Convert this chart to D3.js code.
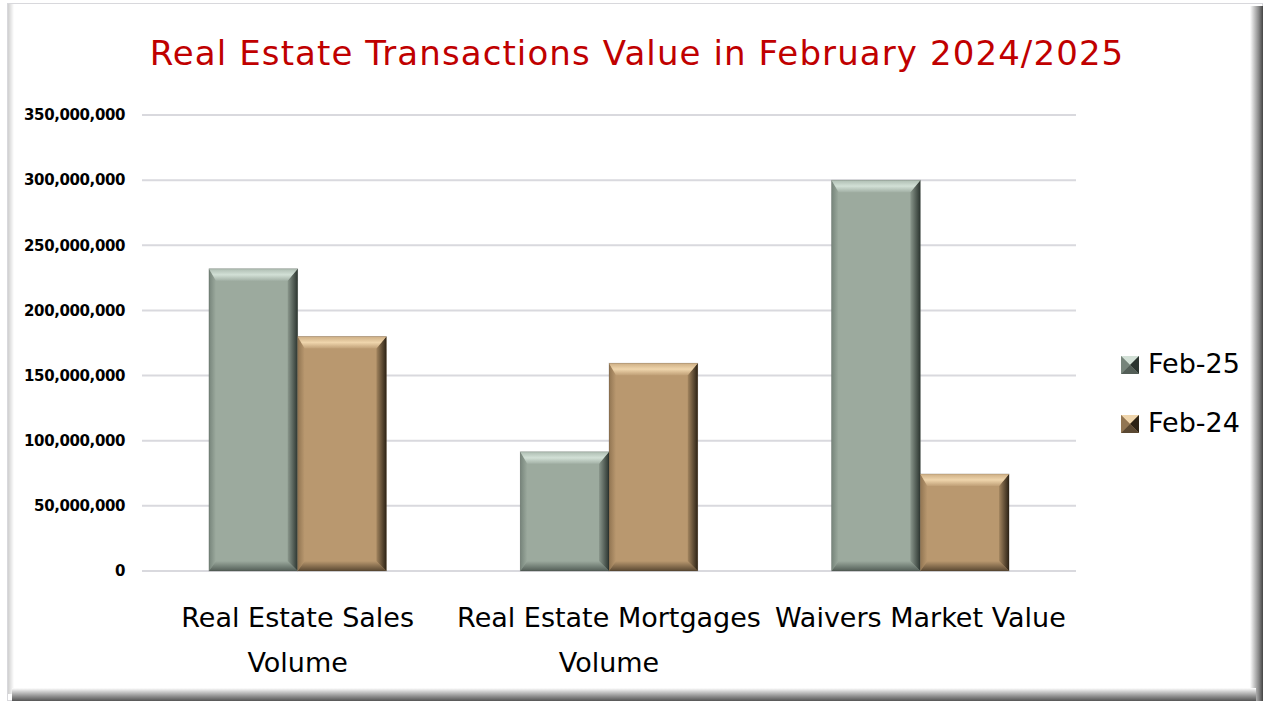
<!DOCTYPE html>
<html>
<head>
<meta charset="utf-8">
<script src="https://cdn.jsdelivr.net/npm/d3@7"></script>
<style>
  html, body { margin: 0; padding: 0; background: #fff; }
  svg { display: block; }
</style>
</head>
<body>
<svg id="chart"></svg>
<script>
const categories = [["Real Estate Sales", "Volume"], ["Real Estate Mortgages", "Volume"], ["Waivers Market Value"]];
const seriesNames = ["Feb-25", "Feb-24"];
const feb25 = [232000000, 91500000, 300000000];
const feb24 = [180000000, 159500000, 74500000];
const yTicks = [0, 50000000, 100000000, 150000000, 200000000, 250000000, 300000000, 350000000];

const WIDTH = 1267, HEIGHT = 708;
const margin = { left: 142, right: 191, top: 115, bottom: 137 };
const FONT = "DejaVu Sans, Verdana, sans-serif";

const palette = {
    "Feb-25": { key: "g", face: "#9caa9e",
        top: ["#aebdb2", "#d2e0d6", "#a3b1a6"], left: ["#76847a", "#9caa9e"],
        right: ["#8a978c", "#2c3530"], bottom: ["#9caa9e", "#535e57"] },
    "Feb-24": { key: "t", face: "#b9986f",
        top: ["#cdae84", "#efd5ac", "#c0a077"], left: ["#917552", "#b9986f"],
        right: ["#a3855f", "#2c2215"], bottom: ["#b9986f", "#5a4832"] }
};

const svg = d3.select("svg#chart")
    .attr("width", WIDTH)
    .attr("height", HEIGHT);

const defs = svg.append("defs");

function gradient(id, vertical, stops) {
    const g = defs.append("linearGradient").attr("id", id)
        .attr("x1", 0).attr("y1", 0)
        .attr("x2", vertical ? 0 : 1).attr("y2", vertical ? 1 : 0);
    stops.forEach((c, i) => g.append("stop")
        .attr("offset", stops.length === 1 ? 0 : i / (stops.length - 1))
        .attr("stop-color", c));
}

gradient("shR", false, ["#ffffff", "#c4c4c4", "#8a8a8a", "#444444"]);
gradient("shB", true, ["#ffffff", "#c4c4c4", "#8a8a8a", "#555555"]);
gradient("shL", false, ["#cfcfcf", "#ffffff"]);

Object.values(palette).forEach(p => {
    gradient(p.key + "Top", true, p.top);
    gradient(p.key + "Left", false, p.left);
    gradient(p.key + "Right", false, p.right);
    gradient(p.key + "Bottom", true, p.bottom);
});

// frame
svg.append("rect").attr("x", 7.5).attr("y", 3.5).attr("width", 1255).attr("height", 697).attr("fill", "#fff")
    .attr("stroke", "#d8d8dc").attr("stroke-width", 1);
svg.append("rect").attr("x", 8).attr("y", 4).attr("width", 6).attr("height", 690).attr("fill", "url(#shL)");
svg.append("rect").attr("x", 1250).attr("y", 6).attr("width", 13).attr("height", 695).attr("fill", "url(#shR)");
svg.append("rect").attr("x", 12).attr("y", 688).attr("width", 1244).attr("height", 13).attr("fill", "url(#shB)");

// title
svg.append("text")
    .attr("x", 637).attr("y", 65)
    .attr("text-anchor", "middle")
    .attr("font-family", FONT)
    .attr("font-size", 34)
    .attr("letter-spacing", 1.1)
    .attr("fill", "#c00000")
    .text("Real Estate Transactions Value in February 2024/2025");

const x0 = d3.scaleBand()
    .domain(d3.range(categories.length))
    .range([margin.left, WIDTH - margin.right])
    .paddingInner(0.43)
    .paddingOuter(0.215);

const x1 = d3.scaleBand()
    .domain(seriesNames)
    .range([0, x0.bandwidth()]);

const y = d3.scaleLinear()
    .domain([0, 350000000])
    .range([HEIGHT - margin.bottom, margin.top]);

// gridlines
svg.append("g").selectAll("line")
    .data(yTicks)
    .enter().append("line")
        .attr("x1", margin.left).attr("x2", WIDTH - margin.right)
        .attr("y1", d => y(d)).attr("y2", d => y(d))
        .attr("stroke", "#d9d9de").attr("stroke-width", 2);

// y axis labels
const yAxis = d3.axisLeft(y)
    .tickValues(yTicks)
    .tickSize(0)
    .tickPadding(17)
    .tickFormat(d3.format(","));

svg.append("g")
    .attr("transform", `translate(${margin.left},0)`)
    .call(yAxis)
    .call(g => g.select(".domain").remove())
    .call(g => g.selectAll("text")
        .attr("font-family", FONT)
        .attr("font-size", 15)
        .attr("letter-spacing", -0.4)
        .attr("font-weight", "bold")
        .attr("fill", "#000"));

const bars = [];
categories.forEach((c, i) => {
    bars.push({ cat: i, name: "Feb-25", value: feb25[i] });
    bars.push({ cat: i, name: "Feb-24", value: feb24[i] });
});

// bevelled bar: face plus four trapezoid edges
function bevel(g, x, yTop, w, h, col) {
    const xr = x + w, yb = yTop + h;
    const bt = Math.min(12, h / 2), bl = Math.min(7, w / 2), br = Math.min(10, w / 2), bb = Math.min(10, h / 2);
    g.append("rect").attr("x", x).attr("y", yTop).attr("width", w).attr("height", h).attr("fill", col.face);
    g.append("path").attr("d", `M${x},${yTop}L${x + bl},${yTop + bt}L${x + bl},${yb - bb}L${x},${yb}Z`)
        .attr("fill", `url(#${col.key}Left)`);
    g.append("path").attr("d", `M${x},${yb}L${x + bl},${yb - bb}L${xr - br},${yb - bb}L${xr},${yb}Z`)
        .attr("fill", `url(#${col.key}Bottom)`);
    g.append("path").attr("d", `M${xr},${yTop}L${xr},${yb}L${xr - br},${yb - bb}L${xr - br},${yTop + bt}Z`)
        .attr("fill", `url(#${col.key}Right)`);
    g.append("path").attr("d", `M${x},${yTop}L${xr},${yTop}L${xr - br},${yTop + bt}L${x + bl},${yTop + bt}Z`)
        .attr("fill", `url(#${col.key}Top)`);
    g.append("rect").attr("x", x).attr("y", yTop).attr("width", w).attr("height", h)
        .attr("fill", "none").attr("stroke", "#222").attr("stroke-opacity", 0.2).attr("stroke-width", 0.8);
}

const barG = svg.append("g").attr("class", "bars");
bars.forEach(d => {
    const bx = x0(d.cat) + x1(d.name);
    const by = y(d.value);
    bevel(barG.append("g"), bx, by, x1.bandwidth(), y(0) - by, palette[d.name]);
});

// category labels
const catG = svg.append("g")
    .attr("font-family", FONT)
    .attr("font-size", 27)
    .attr("fill", "#000")
    .attr("text-anchor", "middle");

categories.forEach((lines, i) => {
    const cx = x0(i) + x0.bandwidth() / 2;
    const t = catG.append("text").attr("x", cx).attr("y", 627);
    lines.forEach((ln, k) => {
        t.append("tspan")
            .attr("x", cx)
            .attr("dy", k === 0 ? 0 : 45)
            .text(ln);
    });
});

// legend
const legend = svg.append("g").attr("transform", "translate(1121,356)");
seriesNames.forEach((s, i) => {
    const g = legend.append("g").attr("transform", `translate(0,${i * 59})`);
    const col = palette[s];
    const sz = 18, h = sz / 2;
    g.append("rect").attr("width", sz).attr("height", sz).attr("fill", col.face);
    g.append("path").attr("d", `M0,0L${sz},0L${h},${h}Z`).attr("fill", col.top[1]);
    g.append("path").attr("d", `M0,0L${h},${h}L0,${sz}Z`).attr("fill", col.left[0]);
    g.append("path").attr("d", `M${sz},0L${sz},${sz}L${h},${h}Z`).attr("fill", col.right[1]);
    g.append("path").attr("d", `M0,${sz}L${h},${h}L${sz},${sz}Z`).attr("fill", col.bottom[1]);
    g.append("text")
        .attr("x", 27).attr("y", 17)
        .attr("font-family", FONT)
        .attr("font-size", 27)
        .attr("fill", "#000")
        .text(s);
});
</script>
</body>
</html>
